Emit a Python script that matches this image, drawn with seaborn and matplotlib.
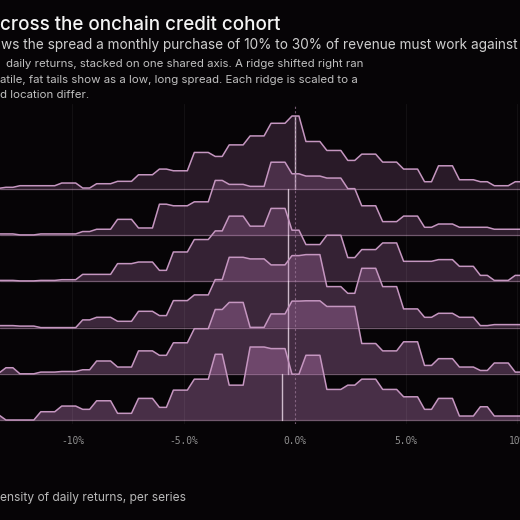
import numpy as np
import pandas as pd
import matplotlib
matplotlib.use('Agg')
import matplotlib.pyplot as plt
import seaborn as sns

# histogram bins shared by every series (return, in %)
bin_left = -14.074
bin_width = 0.8533
# the curves are drawn on a coarse sampling grid
grid_start = -4.832
grid_step = 0.3137

# bin heights per series, top ridge first (29 bins each)
ridge1 = [0.7, 1.7, 3.3, 3.3, 6, 1, 5.3, 7.7, 14.3, 20, 18.3, 36.7, 32.7, 44.3, 53.3,
          66, 73.3, 47.7, 38.7, 28.7, 35, 27, 20, 7.3, 23.3, 9.3, 7.3, 3.3, 7.3]
ridge2 = [1.3, 1.3, 0.3, 1.3, 1.3, 3.7, 6, 16, 7.3, 31.3, 29.7, 33.7, 55.3, 51.3, 49.3,
          73.7, 62, 59.7, 57.7, 47, 29.7, 13.7, 19.3, 8, 11.3, 8, 8, 6, 6]
ridge3 = [1, 1, 0.5, 1, 1.7, 7, 7, 17.7, 19.3, 11, 29.3, 41.7, 50.3, 65, 55,
          72.7, 51, 36.7, 46, 23.7, 31.7, 38.3, 20, 20, 21.7, 15, 6, 1, 6]
ridge4 = [2, 2, 1.5, 0, 0, 7.7, 10.3, 6.3, 16.3, 12, 27, 32.7, 48, 70.3, 68.7,
          62.7, 72, 73, 41, 34.3, 59.3, 41, 18.7, 10.3, 14.3, 10.3, 2, 3, 3]
ridge5 = [0.7, 6, 0, 1.7, 2.3, 4, 12.7, 6.7, 22.7, 18.3, 30.7, 44.7, 63.7, 70.7, 46,
          59.3, 72, 72.3, 66.7, 66.7, 30, 22.7, 31.7, 8.3, 15, 6.7, 3.3, 10.7, 1.7]
ridge6 = [5, 0, 0, 8.3, 14, 10.7, 19.3, 6.7, 21.7, 12.7, 30, 41, 66, 35, 73.3,
          71.7, 46, 65, 30.7, 35, 41, 30.7, 23.3, 10.7, 21.7, 4, 13.3, 4, 4]
ridges = [ridge1, ridge2, ridge3, ridge4, ridge5, ridge6]
medians = [0.01, -0.29, -0.29, -0.29, -0.29, -0.59]

tick_pos = [-10, -5, 0, 5, 10]
tick_labels = ['-10%', '-5.0%', '0.0%', '5.0%', '10%']

title = 'cross the onchain credit cohort'
subtitle = 'ws the spread a monthly purchase of 10% to 30% of revenue must work against'
desc = ['daily returns, stacked on one shared axis. A ridge shifted right ran',
        'atile, fat tails show as a low, long spread. Each ridge is scaled to a',
        'd location differ.']
footer = 'ensity of daily returns, per series'

bg = '#060406'
line_col = '#c596c0'
fill_col = '#b676b2'
peak = 1.58  # common ridge height, in ridge spacings

sns.set_theme(style='dark', rc={'axes.facecolor': bg, 'figure.facecolor': bg,
                                'savefig.facecolor': bg})
plt.rcParams['font.family'] = ['Inter', 'DejaVu Sans']

xs = grid_start + grid_step * np.arange(-28, 50)
idx = np.clip(np.floor((xs - bin_left) / bin_width).astype(int), 0, 28)
rows = []
for i, r in enumerate(ridges):
    v = np.array(r, dtype=float)
    v = v / v.max() * peak
    for x, y in zip(xs, v[idx]):
        rows.append({'ret': x, 'dens': y, 'series': i})
df = pd.DataFrame(rows)

fig = plt.figure(figsize=(5.2, 5.2), dpi=100)
W, H = 520, 520
ax_top, ax_bot = 104, 424
ax = fig.add_axes([0, (H - ax_bot) / H, 1, (ax_bot - ax_top) / H])
spacing = 46.2
n = len(ridges)
ax.set_xlim((0 - 294.8) / 22.24, (520 - 294.8) / 22.24)
ax.set_ylim(-(ax_bot - 420) / spacing, (n - 1) + (189 - ax_top) / spacing)

for i in range(n):
    off = n - 1 - i
    sub = df[df['series'] == i]
    alpha = 0.2 + 0.036 * i
    ax.fill_between(sub['ret'], off, sub['dens'] + off, color=fill_col, alpha=alpha,
                    lw=0, zorder=2 + i)
    ax.axhline(off, color='#7e6379', lw=0.9, alpha=0.9, zorder=2 + i)
    sns.lineplot(x=sub['ret'], y=sub['dens'] + off, sort=False, estimator=None,
                 color=line_col, lw=1.1, ax=ax, zorder=2.5 + i, legend=False)
    h = np.interp(medians[i], sub['ret'], sub['dens'])
    if i > 0:
        h = min(h, 1.0)
    ax.plot([medians[i], medians[i]], [off, off + h], color='#e6d4e3', lw=1.0,
            alpha=0.85, zorder=2.6 + i)

for t in tick_pos:
    if t == 0:
        ax.axvline(t, color='#a07c9c', lw=0.8, alpha=0.7, ls=(0, (2, 2)), zorder=20)
    else:
        ax.axvline(t, color='white', lw=0.8, alpha=0.05, zorder=20)

ax.set_xticks(tick_pos)
ax.set_xticklabels(tick_labels, fontfamily='DejaVu Sans Mono', fontsize=6.9,
                   color='#8e8e8e')
ax.set_yticks([])
ax.tick_params(axis='x', length=0, pad=8.5)
ax.grid(False)
for s in ax.spines.values():
    s.set_visible(False)
ax.set_xlabel('')
ax.set_ylabel('')

renderer = fig.canvas.get_renderer()


def put(x, y, s, size, color, target=None, weight='normal'):
    t = fig.text(x / W, 1 - y / H, s, fontsize=size, color=color, ha='left',
                 va='baseline', fontweight=weight)
    if target:
        w = t.get_window_extent(renderer).width
        t.set_fontsize(size * target / w)
    return t


put(-0.5, 30.5, title, 13, '#f4f4f4', 281, weight='medium')
put(1.0, 49.3, subtitle, 10, '#cfcfcf', 518)
d0 = put(6, 66.7, desc[0], 7, '#c0c0c0', 357)
ds = d0.get_fontsize()
put(0.5, 82.7, desc[1], ds, '#c0c0c0')
put(0, 98.5, desc[2], ds, '#c0c0c0')
put(0, 501, footer, 9, '#b8b8b8', 186)

fig.savefig('out.png', dpi=100)
